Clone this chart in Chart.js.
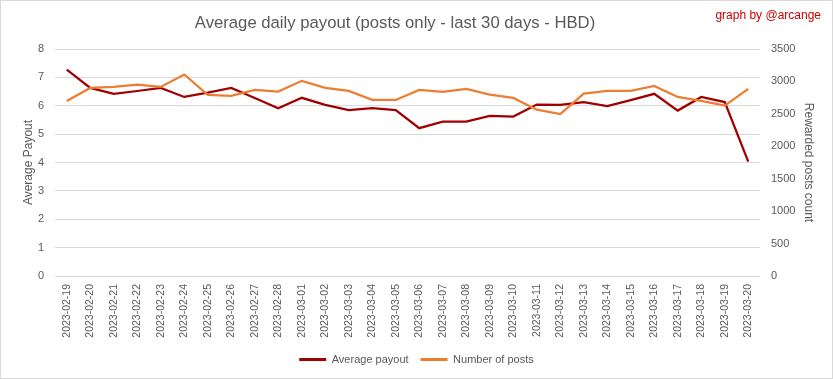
<!DOCTYPE html>
<html>
<head>
<meta charset="utf-8">
<script src="https://cdn.jsdelivr.net/npm/chart.js@4"></script>
<style>
  html, body { margin: 0; padding: 0; background: #fff; }
  #wrap { width: 833px; height: 379px; position: relative; }
</style>
</head>
<body>
<div id="wrap"><canvas id="c" width="833" height="379"></canvas></div>
<script>
const dates = ["2023-02-19","2023-02-20","2023-02-21","2023-02-22","2023-02-23","2023-02-24","2023-02-25","2023-02-26","2023-02-27","2023-02-28","2023-03-01","2023-03-02","2023-03-03","2023-03-04","2023-03-05","2023-03-06","2023-03-07","2023-03-08","2023-03-09","2023-03-10","2023-03-11","2023-03-12","2023-03-13","2023-03-14","2023-03-15","2023-03-16","2023-03-17","2023-03-18","2023-03-19","2023-03-20"];
const avgPayout = [7.27, 6.63, 6.42, 6.52, 6.63, 6.31, 6.46, 6.63, 6.27, 5.91, 6.28, 6.03, 5.85, 5.92, 5.85, 5.21, 5.44, 5.44, 5.64, 5.62, 6.04, 6.03, 6.13, 5.99, 6.20, 6.42, 5.83, 6.31, 6.13, 4.03];
const postCount = [2699, 2900, 2916, 2952, 2916, 3107, 2792, 2777, 2870, 2844, 3009, 2900, 2854, 2715, 2715, 2870, 2839, 2885, 2797, 2746, 2565, 2498, 2813, 2854, 2854, 2931, 2761, 2699, 2627, 2885];
const leftTicks = [0, 1, 2, 3, 4, 5, 6, 7, 8];
const rightTicks = [0, 500, 1000, 1500, 2000, 2500, 3000, 3500];
const chartTitle = 'Average daily payout (posts only - last 30 days - HBD)';
const creditText = 'graph by @arcange';

const FONT = "'Liberation Sans', Arial, sans-serif";
const GRAY = '#595959';
const GRID = '#D9D9D9';

const extras = {
  id: 'extras',
  afterDraw(chart) {
    const ctx = chart.ctx;
    ctx.save();
    ctx.strokeStyle = GRID;
    ctx.lineWidth = 1;
    ctx.strokeRect(0.5, 0.5, chart.width - 1, chart.height - 1);
    ctx.textBaseline = 'middle';
    ctx.fillStyle = GRAY;
    ctx.font = "16.7px " + FONT;
    ctx.textAlign = 'center';
    ctx.fillText(chartTitle, 395, 23);
    ctx.fillStyle = '#C80000';
    ctx.font = "12px " + FONT;
    ctx.textAlign = 'right';
    ctx.fillText(creditText, 821, 16);
    ctx.restore();
  }
};

new Chart(document.getElementById('c'), {
  type: 'line',
  data: {
    labels: dates,
    datasets: [
      { label: 'Average payout', data: avgPayout, yAxisID: 'y', borderColor: '#A00000', backgroundColor: '#A00000', borderWidth: 2.25, pointRadius: 0, tension: 0, order: 1 },
      { label: 'Number of posts', data: postCount, yAxisID: 'y1', borderColor: '#ED7D31', backgroundColor: '#ED7D31', borderWidth: 2.25, pointRadius: 0, tension: 0, order: 0 }
    ]
  },
  options: {
    responsive: false,
    animation: false,
    layout: { padding: { left: 0, right: 0, top: 49, bottom: 4 } },
    plugins: {
      title: { display: false },
      legend: {
        position: 'bottom',
        labels: {
          color: GRAY,
          font: { family: FONT, size: 11 },
          boxWidth: 27, boxHeight: 3,
          padding: 12,
          sort: (a, b) => a.datasetIndex - b.datasetIndex,
          generateLabels(chart) {
            const items = Chart.defaults.plugins.legend.labels.generateLabels(chart);
            items.forEach(it => { it.lineWidth = 0; });
            return items;
          }
        }
      },
      tooltip: { enabled: false }
    },
    scales: {
      x: {
        offset: true,
        grid: { display: false, drawTicks: false },
        border: { display: false },
        ticks: { color: GRAY, font: { family: FONT, size: 10.5 }, minRotation: 90, maxRotation: 90, autoSkip: false, padding: 8 },
        afterFit(s) { s.height = 66; }
      },
      y: {
        position: 'left',
        min: 0, max: 8,
        afterBuildTicks(s) { s.ticks = leftTicks.map(v => ({ value: v })); },
        grid: { color: GRID, lineWidth: 1, drawTicks: false },
        border: { display: false },
        ticks: { color: GRAY, font: { family: FONT, size: 11 }, padding: 11 },
        title: { display: true, text: 'Average Payout', color: GRAY, font: { family: FONT, size: 12 }, padding: { top: 21, bottom: 0 } },
        afterFit(s) { s.width = 55; }
      },
      y1: {
        position: 'right',
        min: 0, max: 3500,
        afterBuildTicks(s) { s.ticks = rightTicks.map(v => ({ value: v })); },
        grid: { display: false, drawTicks: false },
        border: { display: false },
        ticks: { color: GRAY, font: { family: FONT, size: 11 }, padding: 11, callback: v => String(v) },
        title: { display: true, text: 'Rewarded posts count', color: GRAY, font: { family: FONT, size: 12 }, padding: { top: 17, bottom: 0 } },
        afterFit(s) { s.width = 73; }
      }
    }
  },
  plugins: [extras]
});
</script>
</body>
</html>
